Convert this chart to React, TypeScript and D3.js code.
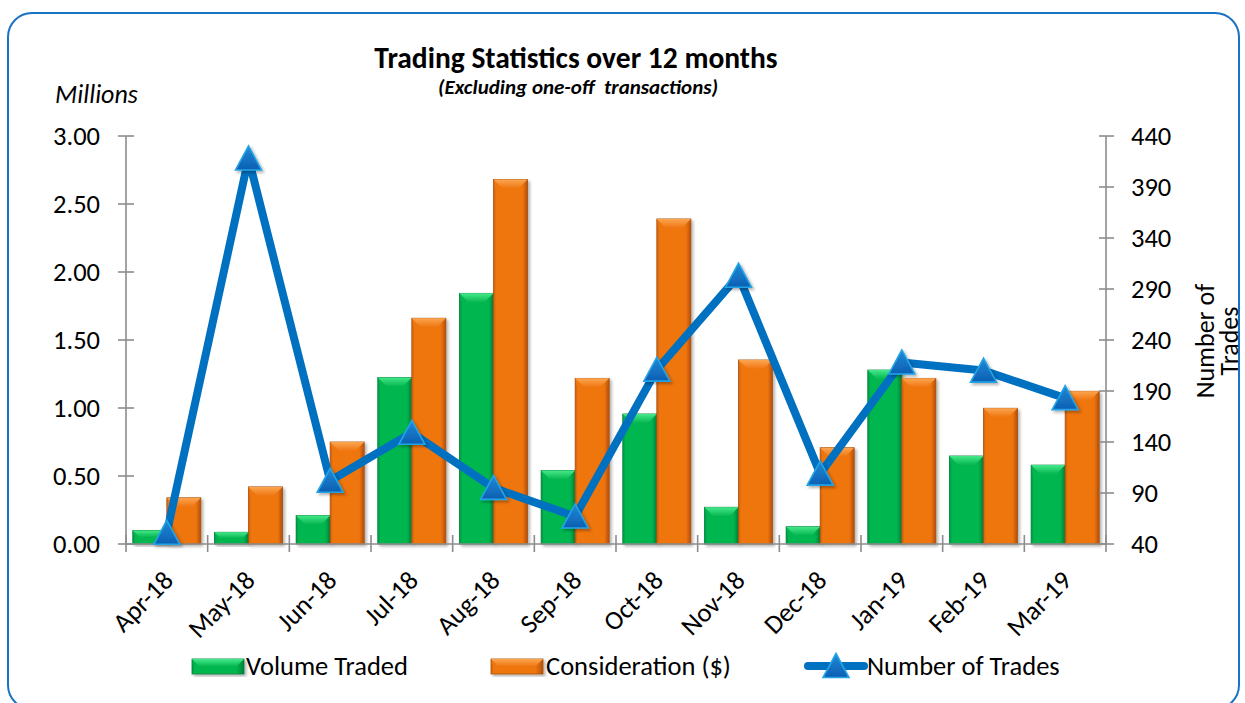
import React from "react";
import * as d3 from "d3";

const months = ["Apr-18","May-18","Jun-18","Jul-18","Aug-18","Sep-18","Oct-18","Nov-18","Dec-18","Jan-19","Feb-19","Mar-19"];
const volumeTraded = [0.10, 0.086, 0.21, 1.225, 1.843, 0.54, 0.956, 0.27, 0.127, 1.279, 0.647, 0.58];
const consideration = [0.34, 0.42, 0.75, 1.66, 2.68, 1.218, 2.39, 1.353, 0.708, 1.218, 0.998, 1.123];
const numberOfTrades = [51, 418, 102, 149, 95, 67, 211, 303, 109, 218, 210, 183];
const leftTicks = [0, 0.5, 1.0, 1.5, 2.0, 2.5, 3.0];
const rightTicks = [40, 90, 140, 190, 240, 290, 340, 390, 440];
const seriesKeys = ["vol", "con"];

const FONT = "Carlito, Lato, 'Open Sans', sans-serif";

const PLOT = { left: 126, right: 1106, top: 136, bottom: 544 };

const colors = {
  vol: { main: "#05b64f", dark: "#03853a", edge: "#0b7a3c", light: "#45e98a" },
  con: { main: "#ef7511", dark: "#b95409", edge: "#a2500f", light: "#fca650" },
};

function Bar({ x, y, w, h, k }: { x: number; y: number; w: number; h: number; k: "vol" | "con" }) {
  const c = colors[k];
  const b = Math.min(9, h / 2);
  return (
    <g filter="url(#shadow)">
      <rect x={x} y={y} width={w} height={h} fill={`url(#grad-${k})`} stroke={c.edge} strokeWidth={0.8} />
      <polygon
        points={`${x},${y} ${x + w},${y} ${x + w - b},${y + b} ${x + b},${y + b}`}
        fill={`url(#top-${k})`}
      />
      <polygon
        points={`${x},${y} ${x + 2},${y + b} ${x + 2},${y + h - 2} ${x},${y + h}`}
        fill={c.dark}
        opacity={0.35}
      />
      <polygon
        points={`${x + w},${y} ${x + w - 2},${y + b} ${x + w - 2},${y + h - 2} ${x + w},${y + h}`}
        fill={c.dark}
        opacity={0.5}
      />
    </g>
  );
}

export default function App() {
  const x = d3.scaleBand<string>().domain(months).range([PLOT.left, PLOT.right]).paddingInner(0).paddingOuter(0);
  const xs = d3.scaleBand<string>().domain(seriesKeys).range([0, x.bandwidth()]).paddingInner(0).paddingOuter(0.2);
  const yL = d3.scaleLinear().domain([0, 3]).range([PLOT.bottom, PLOT.top]);
  const yR = d3.scaleLinear().domain([40, 440]).range([PLOT.bottom, PLOT.top]);

  const pts: [number, number][] = months.map((m, i) => [x(m)! + x.bandwidth() / 2, yR(numberOfTrades[i])]);
  const line = d3.line()(pts) || "";

  const tri = (cx: number, cy: number, s = 1) =>
    `${cx},${cy - 12.5 * s} ${cx + 13 * s},${cy + 11.5 * s} ${cx - 13 * s},${cy + 11.5 * s}`;

  const boundaries = d3.range(months.length + 1).map((i) => PLOT.left + i * x.step());

  return (
    <svg width={1245} height={703} style={{ position: "absolute", left: 0, top: 0, background: "#fff" }} fontFamily={FONT}>
      <defs>
        <filter id="shadow" x="-30%" y="-10%" width="160%" height="130%">
          <feDropShadow dx="2" dy="2" stdDeviation="1.8" floodColor="#000" floodOpacity="0.3" />
        </filter>
        {(["vol", "con"] as const).map((k) => (
          <React.Fragment key={k}>
            <linearGradient id={`grad-${k}`} x1="0" x2="1" y1="0" y2="0">
              <stop offset="0" stopColor={colors[k].main} />
              <stop offset="0.85" stopColor={colors[k].main} />
              <stop offset="1" stopColor={colors[k].dark} />
            </linearGradient>
            <linearGradient id={`top-${k}`} x1="0" x2="0" y1="0" y2="1">
              <stop offset="0" stopColor={colors[k].light} />
              <stop offset="1" stopColor={colors[k].main} />
            </linearGradient>
          </React.Fragment>
        ))}
        <linearGradient id="tri" x1="0" x2="0" y1="0" y2="1">
          <stop offset="0" stopColor="#1f8ad6" />
          <stop offset="1" stopColor="#0d5fb3" />
        </linearGradient>
      </defs>

      {/* frame */}
      <rect x={8} y={13} width={1231} height={696} rx={24} ry={24} fill="none" stroke="#1a72c2" strokeWidth={2} />

      {/* titles */}
      <text x={576} y={68} textAnchor="middle" fontSize={29.5} fontWeight="bold" fill="#000">
        Trading Statistics over 12 months
      </text>
      <text x={578} y={94} textAnchor="middle" fontSize={21} fontWeight="bold" fontStyle="italic" fill="#000" style={{ whiteSpace: "pre" }}>
        (Excluding one-off  transactions)
      </text>
      <text x={55} y={103} fontSize={26} fontStyle="italic" fill="#000">Millions</text>

      {/* bars */}
      {months.map((m, i) => (
        <g key={m}>
          <Bar k="vol" x={x(m)! + xs("vol")!} y={yL(volumeTraded[i])} w={xs.bandwidth()} h={yL(0) - yL(volumeTraded[i])} />
          <Bar k="con" x={x(m)! + xs("con")!} y={yL(consideration[i])} w={xs.bandwidth()} h={yL(0) - yL(consideration[i])} />
        </g>
      ))}

      {/* axes */}
      <g stroke="#8c8c8c" strokeWidth={1.6}>
        <line x1={PLOT.left} x2={PLOT.left} y1={PLOT.top} y2={PLOT.bottom} />
        <line x1={PLOT.right} x2={PLOT.right} y1={PLOT.top} y2={PLOT.bottom} />
        <line x1={PLOT.left} x2={PLOT.right} y1={PLOT.bottom} y2={PLOT.bottom} />
        {leftTicks.map((t) => (
          <line key={"l" + t} x1={PLOT.left - 8} x2={PLOT.left + 8} y1={yL(t)} y2={yL(t)} />
        ))}
        {rightTicks.map((t) => (
          <line key={"r" + t} x1={PLOT.right - 7} x2={PLOT.right + 8} y1={yR(t)} y2={yR(t)} />
        ))}
        {boundaries.map((b, i) => (
          <line key={"x" + i} x1={b} x2={b} y1={PLOT.bottom - 9} y2={PLOT.bottom + 8} />
        ))}
      </g>

      {leftTicks.map((t) => (
        <text key={"lt" + t} x={100} y={yL(t)} dy="0.34em" textAnchor="end" fontSize={26.5} fill="#000">
          {d3.format(".2f")(t)}
        </text>
      ))}
      {rightTicks.map((t) => (
        <text key={"rt" + t} x={1131} y={yR(t)} dy="0.34em" textAnchor="start" fontSize={26.5} fill="#000">
          {t}
        </text>
      ))}
      <g transform="translate(1214,341) rotate(-90)">
        <text x={0} y={0} textAnchor="middle" fontSize={26} fill="#000">Number of</text>
        <text x={0} y={24} textAnchor="middle" fontSize={26} fill="#000">Trades</text>
      </g>

      {months.map((m) => {
        const cx = x(m)! + x.bandwidth() / 2 + 8;
        const cy = 582;
        return (
          <text key={"xl" + m} x={cx} y={cy} textAnchor="end" fontSize={26.5} fill="#000" transform={`rotate(-45,${cx},${cy})`}>
            {m}
          </text>
        );
      })}

      {/* line */}
      <path d={line} fill="none" stroke="#0070c0" strokeWidth={8} strokeLinejoin="round" />
      {pts.map(([px, py], i) => (
        <polygon key={"m" + i} points={tri(px, py)} fill="url(#tri)" stroke="#22a4e6" strokeWidth={1.6} filter="url(#shadow)" />
      ))}

      {/* legend */}
      <g>
        <Bar k="vol" x={192} y={659} w={52} h={15} />
        <text x={246} y={675} fontSize={26.5} fill="#000">Volume Traded</text>
        <Bar k="con" x={491} y={659} w={52} h={15} />
        <text x={546} y={675} fontSize={26.5} fill="#000">Consideration ($)</text>
        <line x1={808} x2={864} y1={666} y2={666} stroke="#0070c0" strokeWidth={8} strokeLinecap="round" />
        <polygon points={tri(836, 666)} fill="url(#tri)" stroke="#22a4e6" strokeWidth={1.6} />
        <text x={867} y={675} fontSize={26.5} fill="#000">Number of Trades</text>
      </g>
    </svg>
  );
}
